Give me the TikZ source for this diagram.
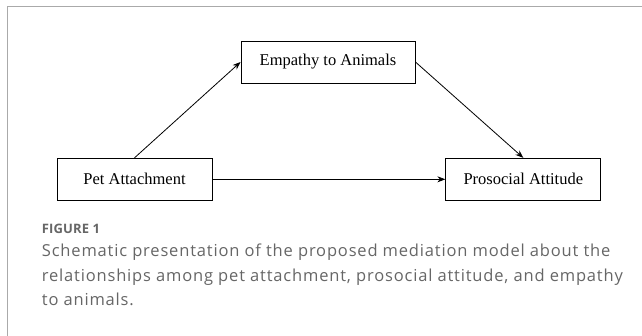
\documentclass[tikz,border=0pt]{standalone}
\usepackage{fontspec}
\setmainfont{Liberation Serif}
\newfontfamily\capfont{Open Sans}[LetterSpace=5]
\newfontfamily\figfont{Open Sans}[LetterSpace=1]
\usetikzlibrary{arrows.meta}
\definecolor{framegray}{HTML}{AAAAAA}
\definecolor{capgray}{HTML}{666666}
\begin{document}
\begin{tikzpicture}[x=1pt,y=-1pt,
  varbox/.style={draw=black,line width=0.9pt,rectangle,inner sep=0pt,minimum height=42pt,font=\fontsize{16.5}{19}\selectfont},
  link/.style={line width=0.8pt,-{Stealth[length=8pt,width=6pt]}},
  frameline/.style={draw=framegray,line width=1.5pt},
  captext/.style={anchor=base west,inner sep=0pt,text=capgray,font=\capfont\fontsize{16.5}{19}\selectfont}]
\useasboundingbox (0,0) rectangle (642,336);
\draw[frameline] (7.3,336) -- (7.3,6.7) -- (642,6.7);
\node[varbox,minimum width=174pt] (emp) at (328,62) {Empathy to Animals};
\node[varbox,minimum width=155pt] (pet) at (134.5,179.3) {Pet Attachment};
\node[varbox,minimum width=155pt] (pro) at (523.3,179.3) {Prosocial Attitude};
\draw[link] (pet.north) -- (emp.west);
\draw[link] (emp.east) -- (pro.north);
\draw[link] (pet.east) -- (pro.west);
\node[anchor=base west,inner sep=0pt,text=capgray,font=\figfont\bfseries\fontsize{13}{16}\selectfont] (fig) at (41.7,233.3) {FIGURE 1};
\node[captext] (cap1) at (41.7,257) {Schematic presentation of the proposed mediation model about the};
\node[captext] (cap2) at (41.7,281.5) {relationships among pet attachment, prosocial attitude, and empathy};
\node[captext] (cap3) at (41.7,306) {to animals.};
\end{tikzpicture}
\end{document}
